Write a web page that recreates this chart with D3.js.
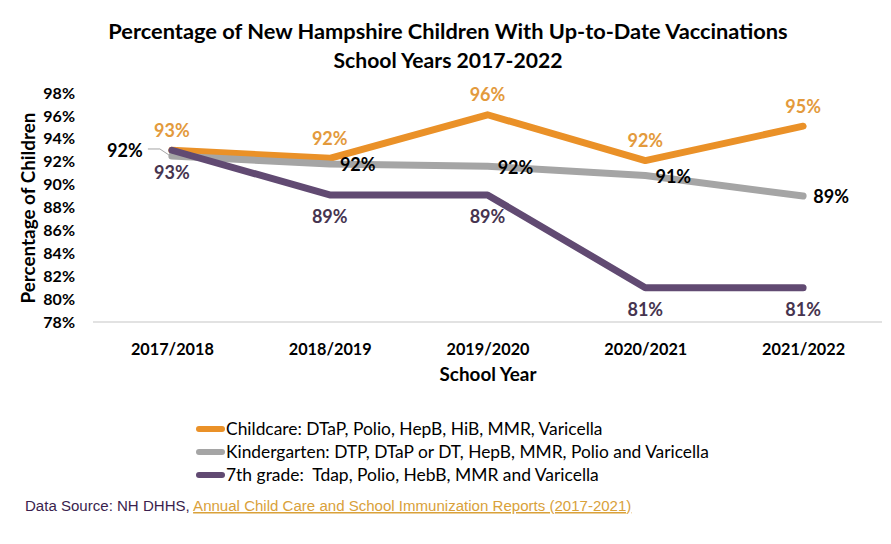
<!DOCTYPE html>
<html>
<head>
<meta charset="utf-8">
<script src="https://cdn.jsdelivr.net/npm/d3@7"></script>
<style>
  body { margin: 0; background: #fff; }
  text { font-family: Lato, "Open Sans", sans-serif; }
</style>
</head>
<body>
<div id="chart"></div>
<script>
// school years on the x axis
const years = ['2017/2018', '2018/2019', '2019/2020', '2020/2021', '2021/2022']

// percent up to date
const childcare = [93.0, 92.3, 96.1, 92.1, 95.1]
const kindergarten = [92.5, 91.8, 91.6, 90.8, 89.0]
const seventhGrade = [93.0, 89.1, 89.1, 81.0, 81.0]

// the rounded values printed next to the points
const childcareLabels = ['93%', '92%', '96%', '92%', '95%']
const kindergartenLabels = ['92%', '92%', '92%', '91%', '89%']
const seventhLabels = ['93%', '89%', '89%', '81%', '81%']

const yTicks = [78, 80, 82, 84, 86, 88, 90, 92, 94, 96, 98]

const seriesNames = [
  'Childcare: DTaP, Polio, HepB, HiB, MMR, Varicella',
  'Kindergarten: DTP, DTaP or DT, HepB, MMR, Polio and Varicella',
  '7th grade:  Tdap, Polio, HebB, MMR and Varicella'
]

const width = 891
const height = 544
const margin = { top: 93, left: 93, bottom: 222, right: 9 }

const colors = {
  childcare: '#EA9128',
  kindergarten: '#A5A5A5',
  seventh: '#614A72'
}
const labelColors = {
  childcare: '#E39A3C',
  kindergarten: '#000000',
  seventh: '#46344F'
}

const svg = d3.select('#chart').append('svg')
  .attr('width', width)
  .attr('height', height)

// shrink or grow a text so it spans the width seen in the picture
function fit (sel, w) {
  sel.each(function () {
    const fs = parseFloat(d3.select(this).style('font-size'))
    const len = this.getComputedTextLength()
    d3.select(this).style('font-size', (fs * w / len) + 'px')
  })
  return sel
}

const x = d3.scalePoint()
  .domain(years)
  .range([margin.left, width - margin.right])
  .padding(0.5)

const y = d3.scaleLinear()
  .domain([78, 98])
  .range([height - margin.bottom, margin.top])

// title
fit(svg.append('text')
  .attr('x', 448).attr('y', 39)
  .attr('text-anchor', 'middle')
  .style('font-size', '21px').style('font-weight', 700)
  .text('Percentage of New Hampshire Children With Up-to-Date Vaccinations'), 680)

fit(svg.append('text')
  .attr('x', 448).attr('y', 68)
  .attr('text-anchor', 'middle')
  .style('font-size', '21px').style('font-weight', 700)
  .text('School Years 2017-2022'), 229)

// x axis: only the light base line and the year labels
const xAxis = svg.append('g')
  .attr('transform', `translate(0, ${y(78)})`)
  .call(d3.axisBottom(x).tickSize(0).tickPadding(21))
xAxis.select('.domain').attr('stroke', '#D9D9D9').attr('stroke-width', 1.5)
  .attr('d', `M${margin.left},0H${width - margin.right}`)
xAxis.selectAll('text')
  .style('font-family', 'Lato, sans-serif')
  .style('font-size', '16px').style('font-weight', 700)
  .attr('fill', '#000')
fit(xAxis.selectAll('text'), 83)

// y axis: labels only
const yAxis = svg.append('g')
  .attr('transform', `translate(${margin.left}, 0)`)
  .call(d3.axisLeft(y).tickValues(yTicks).tickFormat(d => d + '%').tickSize(0).tickPadding(18))
yAxis.select('.domain').remove()
yAxis.selectAll('text')
  .style('font-family', 'Lato, sans-serif')
  .style('font-size', '16px').style('font-weight', 700)
  .attr('fill', '#000')

// axis titles
fit(svg.append('text')
  .attr('x', 488).attr('y', 381)
  .attr('text-anchor', 'middle')
  .style('font-size', '18px').style('font-weight', 700)
  .text('School Year'), 97)

fit(svg.append('text')
  .attr('transform', 'translate(35, 208) rotate(-90)')
  .attr('text-anchor', 'middle')
  .style('font-size', '18px').style('font-weight', 700)
  .text('Percentage of Children'), 191)

// lines
const line = d3.line()
  .x((d, i) => x(years[i]))
  .y(d => y(d))

const series = [
  { key: 'childcare', values: childcare, labels: childcareLabels },
  { key: 'kindergarten', values: kindergarten, labels: kindergartenLabels },
  { key: 'seventh', values: seventhGrade, labels: seventhLabels }
]

svg.selectAll('.series')
  .data(series)
  .enter()
  .append('path')
  .attr('class', 'series')
  .attr('d', d => line(d.values))
  .attr('fill', 'none')
  .attr('stroke', d => colors[d.key])
  .attr('stroke-width', 7)
  .attr('stroke-linecap', 'round')
  .attr('stroke-linejoin', 'round')

// point labels
const labelFont = (sel) => sel
  .attr('text-anchor', 'middle')
  .attr('dy', '0.35em')
  .style('font-size', '18px')
  .style('font-weight', 700)

svg.selectAll('.lab-childcare')
  .data(childcare)
  .enter().append('text')
  .attr('class', 'lab-childcare')
  .attr('x', (d, i) => x(years[i]))
  .attr('y', d => y(d) - 20)
  .attr('fill', labelColors.childcare)
  .call(labelFont)
  .text((d, i) => childcareLabels[i])

svg.selectAll('.lab-seventh')
  .data(seventhGrade)
  .enter().append('text')
  .attr('class', 'lab-seventh')
  .attr('x', (d, i) => x(years[i]))
  .attr('y', d => y(d) + 22)
  .attr('fill', labelColors.seventh)
  .call(labelFont)
  .text((d, i) => seventhLabels[i])

// kindergarten labels sit to the right, except the first one that has a leader line
svg.selectAll('.lab-kinder')
  .data(kindergarten)
  .enter().append('text')
  .attr('class', 'lab-kinder')
  .attr('x', (d, i) => i === 0 ? x(years[i]) - 47 : x(years[i]) + 28)
  .attr('y', (d, i) => i === 0 ? y(d) - 5 : y(d) + 1)
  .attr('fill', labelColors.kindergarten)
  .call(labelFont)
  .text((d, i) => kindergartenLabels[i])

const k0x = x(years[0])
const k0y = y(kindergarten[0])
svg.append('path')
  .attr('d', `M${k0x - 24},${k0y - 7}H${k0x - 12}L${k0x - 3},${k0y - 1}`)
  .attr('fill', 'none')
  .attr('stroke', '#A5A5A5')
  .attr('stroke-width', 1)

// legend
const legend = svg.selectAll('.legend')
  .data(series)
  .enter().append('g')
  .attr('class', 'legend')
  .attr('transform', (d, i) => `translate(196, ${429 + i * 23})`)

legend.append('line')
  .attr('x1', 3).attr('x2', 26)
  .attr('stroke', d => colors[d.key])
  .attr('stroke-width', 6)
  .attr('stroke-linecap', 'round')

const legendWidths = [377, 483, 373]
legend.append('text')
  .attr('x', 30)
  .attr('dy', '0.35em')
  .style('font-size', '16px')
  .style('white-space', 'pre')
  .text((d, i) => seriesNames[i])
  .each(function (d, i) { fit(d3.select(this), legendWidths[i]) })

// source line
const src = svg.append('text')
  .attr('x', 25).attr('y', 511)
  .style('font-family', '"Liberation Sans Narrow", "Liberation Sans", Arial, sans-serif')
  .style('font-size', '14px')
  .style('white-space', 'pre')
src.append('tspan').attr('fill', '#3A1F4E').text('Data Source: NH DHHS, ')
src.append('tspan').attr('fill', '#D9A13A')
  .style('text-decoration', 'underline')
  .text('Annual Child Care and School Immunization Reports (2017-2021)')
fit(src, 607)
</script>
</body>
</html>
